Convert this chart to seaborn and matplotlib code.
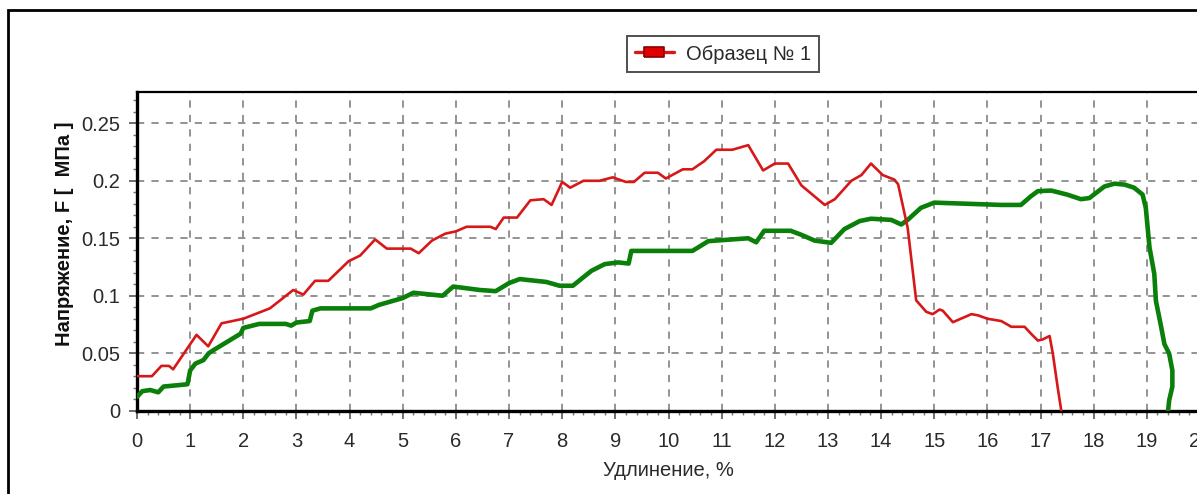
import matplotlib
matplotlib.use("Agg")
import matplotlib.pyplot as plt
import seaborn as sns
import pandas as pd
from matplotlib.patches import Rectangle
from matplotlib.ticker import MultipleLocator

# ---- data ----
red_x = [0.0, 0.28, 0.46, 0.6, 0.68, 1.12, 1.34, 1.59, 2.0, 2.5, 2.94, 3.13, 3.35, 3.6, 3.98, 4.2, 4.48,
         4.7, 5.0, 5.15, 5.3, 5.55, 5.8, 6.0, 6.2, 6.65, 6.75, 6.9, 7.15, 7.4, 7.65, 7.8, 8.0, 8.15,
         8.4, 8.7, 8.95, 9.2, 9.35, 9.55, 9.8, 9.95, 10.27, 10.45, 10.67, 10.9, 11.2, 11.5, 11.78,
         12.0, 12.25, 12.5, 12.94, 13.13, 13.44, 13.63, 13.81, 14.03, 14.25, 14.32, 14.5, 14.66,
         14.85, 14.97, 15.1, 15.16, 15.35, 15.5, 15.7, 15.82, 16.0, 16.26, 16.45, 16.7, 16.82,
         16.95, 17.04, 17.17, 17.23, 17.32, 17.39]
red_y = [0.030, 0.030, 0.039, 0.039, 0.036, 0.066, 0.056, 0.076, 0.080, 0.089, 0.105, 0.101, 0.113,
         0.113, 0.130, 0.135, 0.149, 0.141, 0.141, 0.141, 0.137, 0.148, 0.154, 0.156, 0.160, 0.160,
         0.158, 0.168, 0.168, 0.183, 0.184, 0.179, 0.199, 0.194, 0.200, 0.200, 0.203, 0.199, 0.199,
         0.207, 0.207, 0.202, 0.210, 0.210, 0.217, 0.227, 0.227, 0.231, 0.209, 0.215, 0.215, 0.196,
         0.179, 0.184, 0.200, 0.205, 0.215, 0.205, 0.201, 0.197, 0.159, 0.096, 0.086, 0.084, 0.088,
         0.087, 0.077, 0.080, 0.084, 0.083, 0.080, 0.078, 0.073, 0.073, 0.067, 0.061, 0.062, 0.065,
         0.050, 0.021, 0.0]

green_x = [0.0, 0.1, 0.25, 0.4, 0.5, 0.95, 1.0, 1.1, 1.25, 1.35, 1.45, 1.7, 1.95, 2.0, 2.3, 2.8, 2.9,
           3.0, 3.25, 3.3, 3.45, 4.4, 4.55, 5.0, 5.2, 5.75, 5.95, 6.45, 6.75, 7.0, 7.2, 7.7, 7.95,
           8.2, 8.55, 8.8, 9.05, 9.25, 9.3, 10.45, 10.75, 11.5, 11.65, 11.8, 12.3, 12.5, 12.75,
           13.06, 13.31, 13.6, 13.81, 14.19, 14.38, 14.5, 14.75, 15.0, 16.26, 16.63, 16.82, 16.95,
           17.2, 17.5, 17.76, 17.92, 18.2, 18.39, 18.58, 18.76, 18.92, 18.98, 19.05, 19.14, 19.17,
           19.27, 19.33, 19.42, 19.48, 19.48, 19.42, 19.4]
green_y = [0.012, 0.017, 0.018, 0.016, 0.021, 0.023, 0.035, 0.041, 0.044, 0.050, 0.053, 0.060, 0.067,
           0.072, 0.0755, 0.0755, 0.074, 0.0767, 0.078, 0.087, 0.089, 0.089, 0.092, 0.098, 0.1026,
           0.100, 0.108, 0.105, 0.104, 0.111, 0.1145, 0.112, 0.1087, 0.1087, 0.1217, 0.1275, 0.129,
           0.128, 0.139, 0.139, 0.1475, 0.150, 0.1465, 0.1565, 0.1565, 0.153, 0.148, 0.146, 0.158,
           0.165, 0.167, 0.166, 0.162, 0.166, 0.1765, 0.181, 0.179, 0.179, 0.1866, 0.191, 0.1915,
           0.188, 0.184, 0.185, 0.195, 0.1975, 0.1967, 0.194, 0.188, 0.1765, 0.142, 0.119, 0.0957,
           0.0727, 0.058, 0.0496, 0.035, 0.021, 0.009, 0.0]

legend_label = "Образец № 1"
x_label = "Удлинение, %"
y_label = "Напряжение, F [  МПа ]"
x_ticks = list(range(0, 21))
y_ticks = [0, 0.05, 0.1, 0.15, 0.2, 0.25]
y_tick_labels = ["0", "0.05", "0.1", "0.15", "0.2", "0.25"]

red_df = pd.DataFrame({"x": red_x, "y": red_y})
green_df = pd.DataFrame({"x": green_x, "y": green_y})

sns.set_style("white")
plt.rcParams["font.family"] = ["Liberation Sans", "DejaVu Sans"]

W, H = 1197, 494
FS = 14.5
fig = plt.figure(figsize=(W / 100, H / 100), dpi=100)
ax = fig.add_axes([137 / W, (H - 410.7) / H, (1200 - 137) / W, (410.7 - 91.7) / H])

RED = "#d81818"
GREEN = "#0a800a"

sns.lineplot(data=green_df, x="x", y="y", ax=ax, sort=False, estimator=None,
             color=GREEN, linewidth=3.3, zorder=3)
sns.lineplot(data=red_df, x="x", y="y", ax=ax, sort=False, estimator=None,
             color=RED, linewidth=1.9, zorder=4)

ax.set_xlim(0, 20)
ax.set_ylim(0, 0.2775)
ax.set_xticks(x_ticks)
ax.set_yticks(y_ticks)
ax.set_yticklabels(y_tick_labels)
ax.xaxis.set_minor_locator(MultipleLocator(0.2))
ax.yaxis.set_minor_locator(MultipleLocator(0.01))
ax.tick_params(axis="both", which="major", direction="out", length=6, width=1.2,
               color="#555555", labelsize=FS, labelcolor="#2a2a2a")
ax.tick_params(axis="x", which="major", pad=9.5)
ax.tick_params(axis="y", which="major", pad=6)
ax.tick_params(axis="both", which="minor", direction="out", length=3, width=1,
               color="#777777")
ax.tick_params(bottom=True, left=True, which="both")

ax.grid(True, which="major", linestyle=(0, (4, 4)), color="#8a8a8a", linewidth=1.3)
ax.set_axisbelow(True)

for side in ["left", "bottom"]:
    ax.spines[side].set_linewidth(2.4)
    ax.spines[side].set_color("black")
ax.spines["top"].set_linewidth(1.6)
ax.spines["top"].set_color("black")
ax.spines["right"].set_visible(False)

ax.set_xlabel(x_label, fontsize=FS, color="#2a2a2a", labelpad=7)
ax.set_ylabel(y_label, fontsize=FS, fontweight="bold", color="#111111")
ax.yaxis.set_label_coords((74 - 137) / 1063, (410.7 - 234) / 319)

# legend (red series only)
rect_marker = [(-1, -0.5), (1, -0.5), (1, 0.5), (-1, 0.5), (-1, -0.5)]
handle = matplotlib.lines.Line2D([], [], color=RED, linewidth=2.4, marker=rect_marker,
                                 markersize=15, markerfacecolor="#e00000",
                                 markeredgecolor="#8a0000", markeredgewidth=1.2)
leg = fig.legend([handle], [legend_label], loc="center", bbox_to_anchor=(723 / W, (H - 54) / H),
                 fontsize=FS, frameon=True, fancybox=False, handlelength=1.9,
                 borderpad=0.4, handletextpad=0.6, borderaxespad=0)
leg.get_frame().set_edgecolor("#222222")
leg.get_frame().set_linewidth(1.4)
for t in leg.get_texts():
    t.set_color("#2a2a2a")

# outer frame of the screenshot
fig.add_artist(Rectangle((8 / W, -0.05), 1.2, (H - 10) / H + 0.05, transform=fig.transFigure,
                         fill=False, edgecolor="black", linewidth=2, clip_on=False))

fig.savefig("out.png", dpi=100)
